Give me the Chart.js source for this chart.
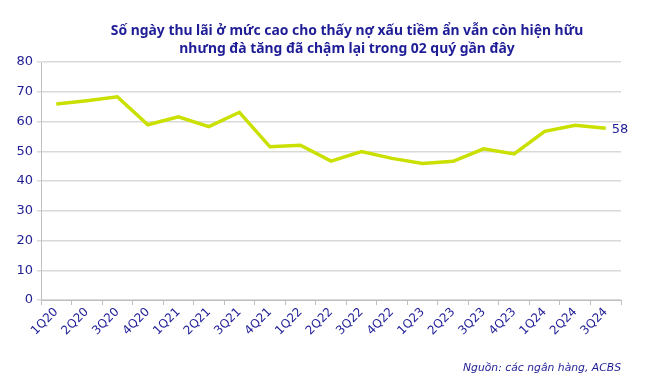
<!DOCTYPE html>
<html>
<head>
<meta charset="utf-8">
<script src="https://cdn.jsdelivr.net/npm/chart.js@4/dist/chart.umd.min.js"></script>
<style>
  body { margin: 0; background: #fff; }
  #wrap { position: relative; width: 662px; height: 378px; }
  #title {
    position: absolute; left: 0; width: 694px; top: 21px;
    text-align: center; font-family: "Noto Sans", sans-serif; font-weight: bold;
    font-size: 13.9px; line-height: 18px; color: #1f1d96;
  }
  #source {
    position: absolute; right: 41px; top: 361px;
    font-family: "DejaVu Sans", sans-serif; font-style: italic; font-size: 10.8px; color: #1f1d96;
  }
</style>
</head>
<body>
<div id="wrap">
  <canvas id="chartNgay"></canvas>
  <div id="title">Số ngày thu lãi ở mức cao cho thấy nợ xấu tiềm ẩn vẫn còn hiện hữu<br>nhưng đà tăng đã chậm lại trong 02 quý gần đây</div>
  <div id="source">Nguồn: các ngân hàng, ACBS</div>
</div>
<script>
let quarters = ["1Q20", "2Q20", "3Q20", "4Q20", "1Q21", "2Q21", "3Q21", "4Q21", "1Q22", "2Q22",
  "3Q22", "4Q22", "1Q23", "2Q23", "3Q23", "4Q23", "1Q24", "2Q24", "3Q24"];
let soNgay = [65.9, 67.0, 68.3, 58.9, 61.6, 58.3, 63.1, 51.5, 52.0, 46.7,
  49.9, 47.6, 45.9, 46.6, 50.8, 49.1, 56.7, 58.7, 57.7];
let yTicks = [0, 10, 20, 30, 40, 50, 60, 70, 80];

let navy = "#1f1d96";

// nhãn giá trị cuối cùng (58)
const lastLabel = {
  id: "lastLabel",
  afterDatasetsDraw(chart) {
    let meta = chart.getDatasetMeta(0);
    let pt = meta.data[meta.data.length - 1];
    let ctx = chart.ctx;
    ctx.save();
    ctx.fillStyle = navy;
    ctx.font = "13px 'DejaVu Sans'";
    ctx.textBaseline = "middle";
    ctx.fillText(Math.round(soNgay[soNgay.length - 1]), pt.x + 6, pt.y + 1);
    ctx.restore();
  }
};

new Chart(document.getElementById("chartNgay"), {
  type: "line",
  data: {
    labels: quarters,
    datasets: [{
      data: soNgay,
      borderColor: "#c9e000",
      borderWidth: 3.5,
      pointRadius: 0,
      tension: 0,
      fill: false
    }]
  },
  options: {
    responsive: true,
    maintainAspectRatio: false,
    animation: false,
    layout: { padding: { top: 62, right: 41, left: 0, bottom: 0 } },
    plugins: { legend: { display: false }, tooltip: { enabled: false } },
    scales: {
      x: {
        offset: true,
        grid: { display: true, drawOnChartArea: false, drawTicks: true, tickLength: 5, color: "#bfbfbf", offset: true },
        border: { color: "#bfbfbf" },
        ticks: { color: navy, font: { family: "DejaVu Sans", size: 12 }, maxRotation: 45, minRotation: 45, padding: 0 },
        afterFit: s => { s.height = 78; }
      },
      y: {
        min: 0,
        max: 80,
        afterBuildTicks: s => { s.ticks = yTicks.map(v => ({ value: v })); },
        grid: { color: "#d9d9d9", lineWidth: 1.5, tickLength: 4, drawTicks: true },
        border: { color: "#bfbfbf" },
        ticks: { color: navy, font: { family: "DejaVu Sans", size: 13 }, padding: 4 },
        afterFit: s => { s.width = 41; }
      }
    }
  },
  plugins: [lastLabel]
});
</script>
</body>
</html>
